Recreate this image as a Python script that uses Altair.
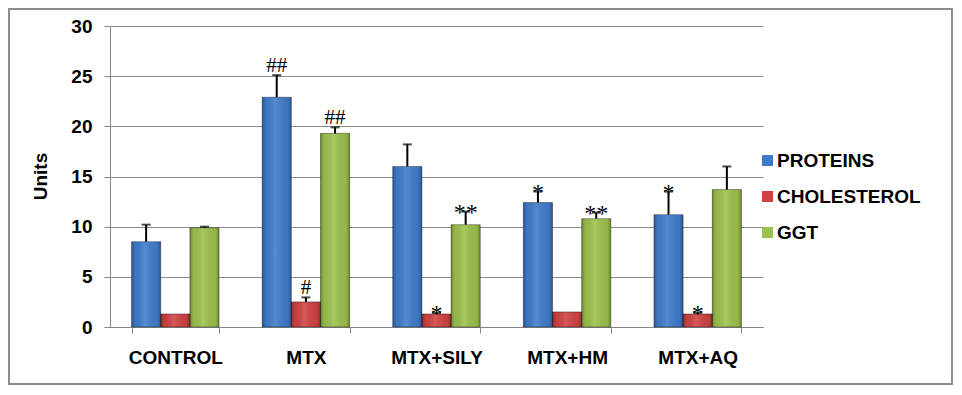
import altair as alt
import pandas as pd

groups = ["CONTROL", "MTX", "MTX+SILY", "MTX+HM", "MTX+AQ"]
series = ["PROTEINS", "CHOLESTEROL", "GGT"]
colors = ["#3F7BCA", "#CF4242", "#9CC04C"]

proteins = [8.5, 22.9, 16.0, 12.4, 11.2]
proteins_err = [1.7, 2.2, 2.2, 1.1, 2.3]
cholesterol = [1.3, 2.5, 1.3, 1.5, 1.3]
cholesterol_err = [0.0, 0.45, 0.1, 0.0, 0.1]
ggt = [9.9, 19.3, 10.2, 10.8, 13.7]
ggt_err = [0.1, 0.6, 1.3, 0.6, 2.3]

ann_groups = ["MTX", "MTX", "MTX", "MTX+SILY", "MTX+SILY", "MTX+HM", "MTX+HM", "MTX+AQ", "MTX+AQ"]
ann_series = ["PROTEINS", "CHOLESTEROL", "GGT", "CHOLESTEROL", "GGT", "PROTEINS", "GGT", "PROTEINS", "CHOLESTEROL"]
ann_marks = ["##", "#", "##", "*", "**", "*", "**", "*", "*"]

rows = []
for s, vals, errs in zip(series, [proteins, cholesterol, ggt], [proteins_err, cholesterol_err, ggt_err]):
    for g, v, e in zip(groups, vals, errs):
        rows.append({"group": g, "series": s, "value": v, "err": e, "top": v + e})
df = pd.DataFrame(rows)

ann = pd.DataFrame({"group": ann_groups, "series": ann_series, "mark": ann_marks})
ann = ann.merge(df[["group", "series", "top"]], on=["group", "series"])

W, H = 653, 301
FONT = "Liberation Sans"

x_enc = alt.X("group:N", sort=groups, title=None,
              scale=alt.Scale(paddingInner=0.33, paddingOuter=0.165),
              axis=alt.Axis(labelAngle=0, labelFont=FONT, labelFontSize=19, labelFontWeight="bold",
                            labelColor="black", labelPadding=15, tickBand="extent", tickSize=6,
                            domainColor="#868686", tickColor="#868686", grid=False))
xo_enc = alt.XOffset("series:N", sort=series, scale=alt.Scale(paddingInner=0, paddingOuter=0))
y_scale = alt.Scale(domain=[0, 30], nice=False)

base = alt.Chart(df)

bars = base.mark_bar().encode(
    x=x_enc,
    xOffset=xo_enc,
    y=alt.Y("value:Q", scale=y_scale, title="Units",
            axis=alt.Axis(values=[0, 5, 10, 15, 20, 25, 30], labelFont=FONT, labelFontSize=19,
                          labelFontWeight="bold", labelColor="black", labelPadding=12, tickSize=6,
                          domainColor="#868686", tickColor="#868686", gridColor="#8C8C8C",
                          titleFont=FONT, titleFontSize=19, titleFontWeight="bold", titleColor="black",
                          titleX=-70, titleY=150, titleAngle=270, titleBaseline="middle")),
    color=alt.Color("series:N", sort=series, scale=alt.Scale(domain=series, range=colors),
                    legend=alt.Legend(title=None, orient="none", legendX=648, legendY=125,
                                      symbolType="square", symbolSize=121, symbolStrokeWidth=0,
                                      labelFont=FONT, labelFontSize=19, labelFontWeight="bold",
                                      labelColor="black", labelOffset=0, rowPadding=16, padding=0)),
)

shade = base.mark_bar(
    fill={"gradient": "linear", "x1": 0, "x2": 1, "y1": 0, "y2": 0,
          "stops": [{"offset": 0, "color": "rgba(0,0,0,0.30)"},
                    {"offset": 0.12, "color": "rgba(0,0,0,0.05)"},
                    {"offset": 0.45, "color": "rgba(255,255,255,0.12)"},
                    {"offset": 0.88, "color": "rgba(0,0,0,0.05)"},
                    {"offset": 1, "color": "rgba(0,0,0,0.30)"}]},
    stroke="rgba(0,0,0,0.35)", strokeWidth=1,
).encode(x=alt.X("group:N", sort=groups), xOffset=xo_enc, y=alt.Y("value:Q", scale=y_scale))

errbase = base.transform_filter("datum.err > 0")
err_rule = errbase.mark_rule(color="black", strokeWidth=2).encode(
    x=alt.X("group:N", sort=groups), xOffset=xo_enc,
    y=alt.Y("value:Q", scale=y_scale), y2="top:Q")
err_cap = errbase.mark_tick(color="black", thickness=2, size=9).encode(
    x=alt.X("group:N", sort=groups), xOffset=xo_enc,
    y=alt.Y("top:Q", scale=y_scale))

ann_base = alt.Chart(ann)
hash_txt = ann_base.transform_filter("indexof(datum.mark, '#') >= 0").mark_text(
    font="Liberation Serif", fontSize=21, color="black", baseline="alphabetic", dy=-3
).encode(x=alt.X("group:N", sort=groups), xOffset=alt.XOffset("series:N", sort=series),
         y=alt.Y("top:Q", scale=y_scale), text="mark:N")
star_txt = ann_base.transform_filter("indexof(datum.mark, '*') >= 0").mark_text(
    font="Liberation Serif", fontSize=24, color="black", baseline="alphabetic", dy=8
).encode(x=alt.X("group:N", sort=groups), xOffset=alt.XOffset("series:N", sort=series),
         y=alt.Y("top:Q", scale=y_scale), text="mark:N")

border = alt.Chart(pd.DataFrame({"a": [0]})).mark_rect(
    fillOpacity=0, stroke="#8C8C8C", strokeWidth=2
).encode(x=alt.value(-101), x2=alt.value(842), y=alt.value(-17), y2=alt.value(358))

chart = alt.layer(border, bars, shade, err_rule, err_cap, hash_txt, star_txt).properties(
    width=W, height=H, padding=0, background="white"
).configure_view(stroke=None)

chart.save("out.html", embed_options={"renderer": "svg", "actions": False})
